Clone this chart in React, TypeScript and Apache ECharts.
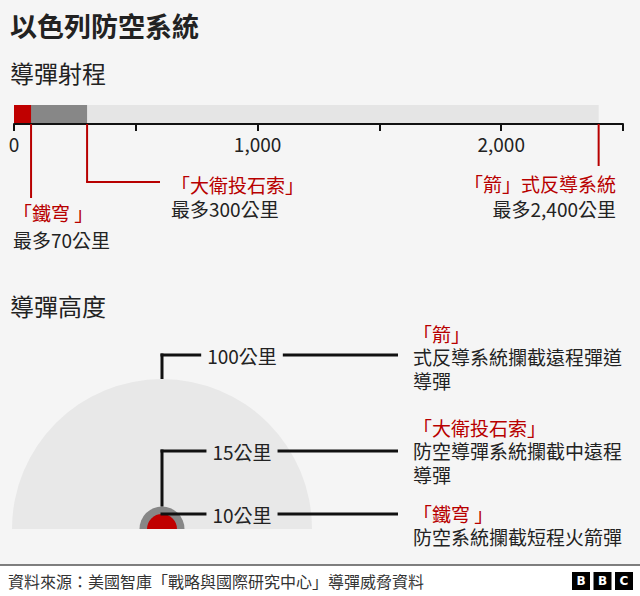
import React, { useEffect, useRef } from 'react';
import * as echarts from 'echarts';

// ---------- data ----------
const rangeSystems = ['「鐵穹 」', '「大衛投石索」', '「箭」式反導系統'];
const rangeKm = [70, 300, 2400];
const rangeCaptions = ['最多70公里', '最多300公里', '最多2,400公里'];
const rangeAxisMax = 2500;
const rangeAxisStep = 500;
const rangeTickLabels = [0, 1000, 2000];

const altitudeKm = [100, 15, 10];
const altitudeLabels = ['100公里', '15公里', '10公里'];
const altitudeSystems = ['「箭」', '「大衛投石索」', '「鐵穹 」'];
const altitudeDescriptions = [
  ['式反導系統攔截遠程彈道', '導彈'],
  ['防空導彈系統攔截中遠程', '導彈'],
  ['防空系統攔截短程火箭彈'],
];

const titleText = '以色列防空系統';
const rangeHeading = '導彈射程';
const altitudeHeading = '導彈高度';
const sourceText = '資料來源：美國智庫「戰略與國際研究中心」導彈威脅資料';

// ---------- styles ----------
const FONT = '"Noto Sans CJK TC", "Noto Sans CJK SC", "Noto Sans", sans-serif';
const RED = '#b80000';
const INK = '#222222';
const BG = '#f5f5f5';
const rangeColors = ['#c00000', '#878787', '#e5e5e5'];
const altitudeColors = ['#e8e8e8', '#878787', '#c00000'];
const BODY = 19;
const Z = 100;

// layout of the range annotations (pixel positions, not data)
const rangeLayout = [
  { endY: 198, elbowX: null as number | null, textX: 13, align: 'left', y1: 212, y2: 239 },
  { endY: 182, elbowX: 160, textX: 171, align: 'left', y1: 184, y2: 208 },
  { endY: 166, elbowX: null as number | null, textX: 616, align: 'right', y1: 183, y2: 208 },
];
const altitudeLayout = [
  { labelY: 355, blockY: 333 },
  { labelY: 451, blockY: 427 },
  { labelY: null as number | null, blockY: 513 },
];

function measure(text: string, size: number) {
  const c = document.createElement('canvas').getContext('2d')!;
  c.font = `${size}px ${FONT}`;
  return c.measureText(text).width;
}

function txt(text: string, x: number, y: number, size: number, fill: string, align = 'left', weight: any = 'normal') {
  return {
    type: 'text',
    x,
    y,
    z: Z,
    silent: true,
    style: { text, fill, fontSize: size, fontFamily: FONT, fontWeight: weight, align, verticalAlign: 'middle' },
  };
}
function seg(x1: number, y1: number, x2: number, y2: number, stroke: string, w: number) {
  return { type: 'line', z: Z, silent: true, shape: { x1, y1, x2, y2 }, style: { stroke, lineWidth: w } };
}

export default function App() {
  const ref = useRef<HTMLDivElement>(null);

  useEffect(() => {
    document.body.style.margin = '0';
    const chart = echarts.init(ref.current!, null, { renderer: 'svg' });

    const order = [2, 1, 0];
    const barSeries = order.map((i) => ({
      type: 'bar',
      name: rangeSystems[i],
      xAxisIndex: 0,
      yAxisIndex: 0,
      data: [rangeKm[i]],
      barWidth: 18,
      barGap: '-100%',
      itemStyle: { color: rangeColors[i] },
      silent: true,
    }));

    chart.setOption({
      animation: false,
      backgroundColor: BG,
      textStyle: { fontFamily: FONT },
      grid: [
        { left: 14, width: 609, top: 104, height: 20 },
        { left: 12, width: 300, top: 379, height: 150 },
      ],
      xAxis: [
        {
          gridIndex: 0,
          type: 'value',
          min: 0,
          max: rangeAxisMax,
          interval: rangeAxisStep,
          axisLine: { show: true, lineStyle: { color: '#111', width: 2 } },
          axisTick: { show: true, length: 7, lineStyle: { color: '#111', width: 2 } },
          splitLine: { show: false },
          axisLabel: {
            color: INK,
            fontSize: BODY,
            fontFamily: FONT,
            margin: 10,
            formatter: (v: number) => (rangeTickLabels.includes(v) ? v.toLocaleString('en-US') : ''),
          },
        },
        { gridIndex: 1, type: 'value', min: -100, max: 100, show: false },
      ],
      yAxis: [
        { gridIndex: 0, type: 'category', data: ['range'], show: false },
        { gridIndex: 1, type: 'value', min: 0, max: 100, show: false },
      ],
      series: [
        ...barSeries,
        {
          type: 'custom',
          xAxisIndex: 1,
          yAxisIndex: 1,
          silent: true,
          clip: false,
          z: 1,
          data: altitudeKm.map((v) => [0, v]),
          renderItem: (params: any, api: any) => {
            const v = api.value(1);
            const c = api.coord([0, 0]);
            const r = api.size([v, 0])[0];
            return {
              type: 'sector',
              shape: { cx: c[0], cy: c[1], r0: 0, r, startAngle: Math.PI, endAngle: Math.PI * 2, clockwise: true },
              style: { fill: altitudeColors[params.dataIndex] },
            };
          },
        },
      ],
    });

    const g: any[] = [];
    g.push(txt(titleText, 10, 25, 27, INK, 'left', 'bold'));
    g.push(txt(rangeHeading, 10, 72, 24, INK));
    g.push(txt(altitudeHeading, 10, 305, 24, INK));

    // range annotations
    const axisY = 124;
    rangeKm.forEach((v, i) => {
      const x = chart.convertToPixel({ xAxisIndex: 0 }, v) as number;
      const L = rangeLayout[i];
      g.push(seg(x, axisY, x, L.endY, RED, 2));
      if (L.elbowX !== null) g.push(seg(x - 1, L.endY, L.elbowX, L.endY, RED, 2));
      g.push(txt(rangeSystems[i], L.textX, L.y1, BODY, RED, L.align));
      g.push(txt(rangeCaptions[i], L.textX, L.y2, BODY, INK, L.align));
    });

    // altitude annotations
    const lineRight = 398;
    const labelCx = 242;
    const blockX = 413;
    altitudeKm.forEach((v, i) => {
      const top = chart.convertToPixel({ gridIndex: 1 }, [0, v]) as number[];
      const L = altitudeLayout[i];
      const ly = L.labelY === null ? top[1] : L.labelY;
      if (ly < top[1]) g.push(seg(top[0], top[1], top[0], ly - 1.5, '#111', 3));
      const w = measure(altitudeLabels[i], BODY);
      g.push(seg(top[0] - 1.5, ly, labelCx - w / 2 - 6, ly, '#111', 3));
      g.push(seg(labelCx + w / 2 + 6, ly, lineRight, ly, '#111', 3));
      g.push(txt(altitudeLabels[i], labelCx, ly, BODY, INK, 'center'));
      g.push(txt(altitudeSystems[i], blockX, L.blockY, BODY, RED));
      altitudeDescriptions[i].forEach((line, k) => {
        g.push(txt(line, blockX, L.blockY + 23.5 * (k + 1), BODY, INK));
      });
    });

    // footer
    g.push({ type: 'rect', z: Z, silent: true, shape: { x: 0, y: 565, width: 640, height: 31 }, style: { fill: '#ffffff' } });
    g.push(seg(0, 565, 640, 565, '#555', 1.5));
    g.push(txt(sourceText, 8, 581, 16, '#333'));
    ['B', 'B', 'C'].forEach((ch, k) => {
      const x = 572 + k * 21.5;
      g.push({ type: 'rect', z: Z, silent: true, shape: { x, y: 572, width: 18, height: 18 }, style: { fill: '#000' } });
      g.push({
        type: 'text',
        z: Z + 1,
        silent: true,
        x: x + 9,
        y: 581,
        style: { text: ch, fill: '#fff', fontSize: 12, fontWeight: 'bold', fontFamily: '"DejaVu Sans", sans-serif', align: 'center', verticalAlign: 'middle' },
      });
    });

    chart.setOption({ graphic: g });

    return () => chart.dispose();
  }, []);

  return <div ref={ref} style={{ width: 640, height: 596, position: 'fixed', left: 0, top: 0 }} />;
}
